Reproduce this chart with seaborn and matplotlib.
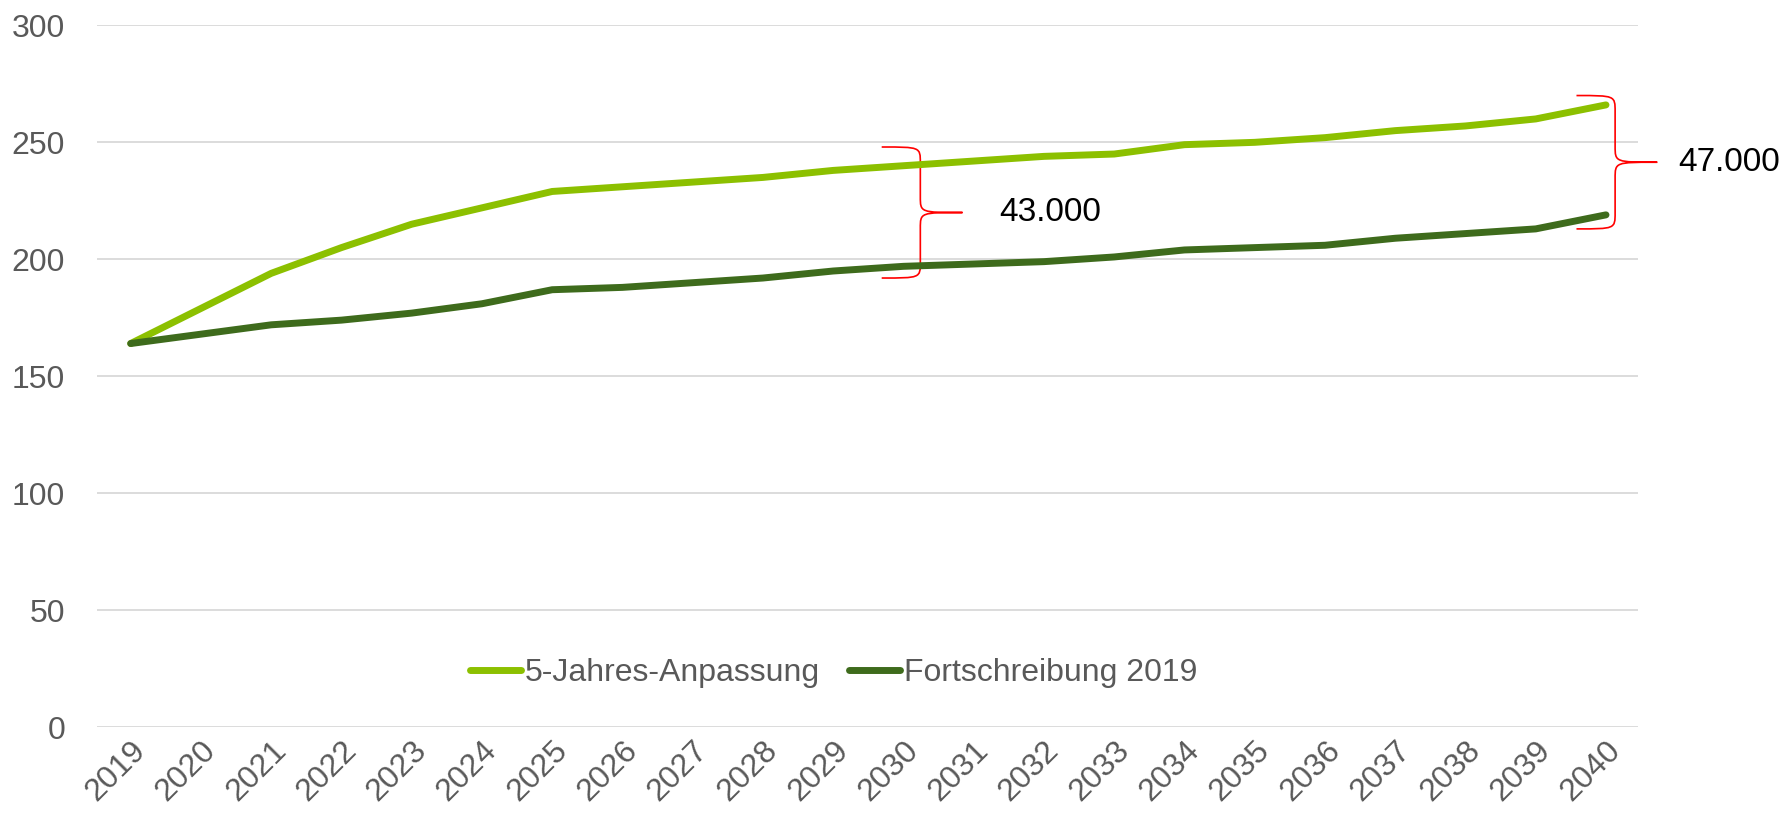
import matplotlib
matplotlib.use("Agg")
import matplotlib.pyplot as plt
import seaborn as sns
import pandas as pd
import numpy as np
from matplotlib.path import Path
from matplotlib.patches import PathPatch

years = list(range(2019, 2041))
anpassung = [164, 179, 194, 205, 215, 222, 229, 231, 233, 235, 238, 240, 242, 244, 245, 249, 250, 252, 255, 257, 260, 266]
fortschreibung = [164, 168, 172, 174, 177, 181, 187, 188, 190, 192, 195, 197, 198, 199, 201, 204, 205, 206, 209, 211, 213, 219]
series_names = ["5-Jahres-Anpassung", "Fortschreibung 2019"]
colors = ["#8cc000", "#3e6b1c"]
y_ticks = [0, 50, 100, 150, 200, 250, 300]
gap_labels = ["43.000", "47.000"]
gap_years = [2030, 2040]

sns.set_theme(style="white")
plt.rcParams["font.family"] = ["Liberation Sans", "DejaVu Sans"]

df = pd.DataFrame({
    "Jahr": years * 2,
    "Wert": anpassung + fortschreibung,
    "Serie": [series_names[0]] * len(years) + [series_names[1]] * len(years),
})
df["pos"] = df["Jahr"] - years[0]

fig = plt.figure(figsize=(17.86, 8.18), dpi=100)
ax = fig.add_axes([0.0543, 0.111, 0.863, 0.858])

sns.lineplot(data=df, x="pos", y="Wert", hue="Serie", palette=colors, linewidth=5,
             ax=ax, legend=True)
for ln in ax.get_lines():
    ln.set_solid_capstyle("round")
    ln.set_solid_joinstyle("round")

ax.set_xlim(-0.48, len(years) - 1 + 0.46)
ax.set_ylim(0, 300)
ax.set_yticks(y_ticks)
ax.set_yticklabels([str(t) for t in y_ticks], fontsize=23, color="#595959")
ax.set_xticks(range(len(years)))
ax.set_xticklabels([str(y) for y in years], rotation=45, ha="right", rotation_mode="anchor",
                   fontsize=23, color="#595959")
ax.tick_params(axis="both", length=0)
ax.tick_params(axis="y", pad=23)
ax.tick_params(axis="x", pad=6)
ax.grid(axis="y", color="#d9d9d9", linewidth=1.3)
ax.set_axisbelow(True)
for s in ax.spines.values():
    s.set_visible(False)
ax.set_xlabel("")
ax.set_ylabel("")

leg = ax.legend(loc="center", bbox_to_anchor=(0.478, 0.077), ncol=2, frameon=False,
                fontsize=23, handlelength=1.6, handletextpad=0.12, columnspacing=0.9)
for t in leg.get_texts():
    t.set_color("#595959")
for h in leg.get_lines():
    h.set_linewidth(5)
    h.set_solid_capstyle("round")


def brace(ax, xc, ytop, ybot, w_left, w_right):
    ym = (ytop + ybot) / 2
    xl = xc - w_left
    xt = xc + w_right
    r = (ytop - ybot) * 0.12
    verts = [
        (xl, ytop),
        (xc, ytop), (xc, ytop), (xc, ytop - r),
        (xc, ym + r),
        (xc, ym), (xc, ym), (xt, ym),
        (xc, ym), (xc, ym), (xc, ym - r),
        (xc, ybot + r),
        (xc, ybot), (xc, ybot), (xl, ybot),
    ]
    codes = [Path.MOVETO,
             Path.CURVE4, Path.CURVE4, Path.CURVE4,
             Path.LINETO,
             Path.CURVE4, Path.CURVE4, Path.CURVE4,
             Path.CURVE4, Path.CURVE4, Path.CURVE4,
             Path.LINETO,
             Path.CURVE4, Path.CURVE4, Path.CURVE4]
    ax.add_patch(PathPatch(Path(verts, codes), fill=False, edgecolor="#ff0000", lw=1.2,
                           clip_on=False))
    return xt, ym


pads = [(8, 5), (4, 6)]
offsets = [0.24, 0.13]
text_dx = [0.52, 0.3]
for i, gy in enumerate(gap_years):
    idx = years.index(gy)
    top = anpassung[idx] + pads[i][0]
    bot = fortschreibung[idx] - pads[i][1]
    xt, ym = brace(ax, idx + offsets[i], top, bot, 0.55, 0.6)
    ax.text(xt + text_dx[i], ym, gap_labels[i], fontsize=24, color="black",
            va="center", ha="left", clip_on=False)

fig.savefig("out.png", dpi=100)
